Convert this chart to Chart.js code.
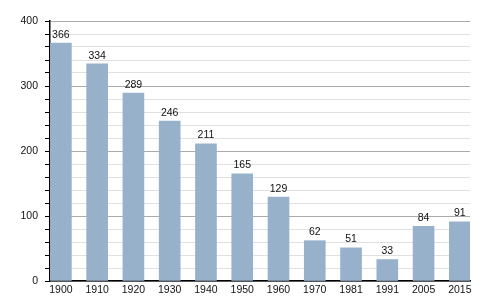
<!DOCTYPE html>
<html>
<head>
<meta charset="utf-8">
<script src="https://cdn.jsdelivr.net/npm/chart.js@4"></script>
<style>
  html, body { margin: 0; padding: 0; background: #fff; }
  #wrap { width: 500px; height: 300px; }
</style>
</head>
<body>
<div id="wrap"><canvas id="popChart"></canvas></div>
<script>
// 年ごとの人口
const years = ['1900', '1910', '1920', '1930', '1940', '1950', '1960', '1970', '1981', '1991', '2005', '2015'];
const population = [366, 334, 289, 246, 211, 165, 129, 62, 51, 33, 84, 91];

const yMax = 400;
const yMajorStep = 100;
const yMinorStep = 20;

// 棒の上に値を書くプラグイン
const valueLabels = {
    id: 'valueLabels',
    afterDatasetsDraw(chart) {
        const ctx = chart.ctx;
        const meta = chart.getDatasetMeta(0);
        ctx.save();
        ctx.font = '10.5px "Liberation Sans", Arial, sans-serif';
        ctx.fillStyle = '#111';
        ctx.textAlign = 'center';
        ctx.textBaseline = 'bottom';
        meta.data.forEach((bar, i) => {
            ctx.fillText(String(population[i]), bar.x, bar.y - 3);
        });
        ctx.restore();
    }
};

const ctx = document.getElementById('popChart').getContext('2d');

const chart = new Chart(ctx, {
    type: 'bar',
    data: {
        datasets: [{
            data: population.map((v, i) => ({ x: i, y: v })),
            backgroundColor: '#97b1cb',
            borderWidth: 0,
            barThickness: 21
        }]
    },
    options: {
        responsive: true,
        maintainAspectRatio: false,
        animation: false,
        layout: { padding: { top: 21, right: 30, left: 0, bottom: 0 } },
        plugins: {
            legend: { display: false },
            tooltip: { enabled: false }
        },
        scales: {
            x: {
                type: 'linear',
                offset: false,
                min: -0.3,
                max: 11.28,
                grid: { display: false, drawTicks: false, tickLength: 0, offset: false },
                border: { display: true, color: '#000', width: 1.5 },
                ticks: {
                    stepSize: 1,
                    includeBounds: false,
                    autoSkip: false,
                    maxRotation: 0,
                    padding: 3,
                    color: '#111',
                    font: { size: 10.5, family: '"Liberation Sans", Arial, sans-serif' },
                    callback: (v) => Number.isInteger(v) && years[v] ? years[v] : ''
                },
                afterFit(scale) { scale.height = 19; }
            },
            y: {
                min: 0,
                max: yMax,
                grid: {
                    color: (c) => c.tick && c.tick.value % yMajorStep === 0 ? '#ababab' : '#e0e0e0',
                    tickColor: '#000',
                    tickLength: 5
                },
                border: { display: true, color: '#000', width: 1.5 },
                ticks: {
                    stepSize: yMinorStep,
                    autoSkip: false,
                    padding: 7,
                    color: '#111',
                    font: { size: 10.5, family: '"Liberation Sans", Arial, sans-serif' },
                    callback: (v) => v % yMajorStep === 0 ? String(v) : ''
                },
                afterFit(scale) { scale.width = 50; }
            }
        }
    },
    plugins: [valueLabels]
});
</script>
</body>
</html>
